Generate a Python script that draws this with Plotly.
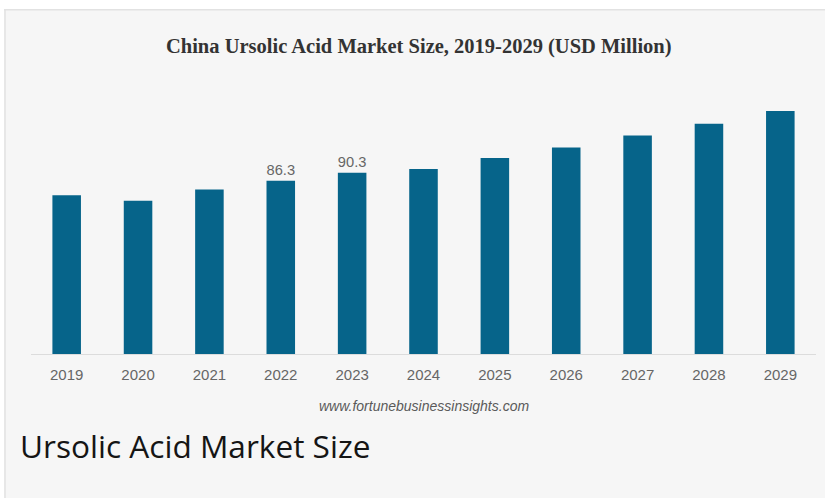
import plotly.graph_objects as go

years = ["2019", "2020", "2021", "2022", "2023", "2024", "2025", "2026", "2027", "2028", "2029"]
values = [79.1, 76.3, 81.9, 86.3, 90.3, 92.2, 97.6, 102.8, 108.8, 114.7, 121.0]
labels = ["", "", "", "86.3", "90.3", "", "", "", "", "", ""]

W, H = 825, 498
L, R, T, B = 31, 9, 93, 144
PW, PH = W - L - R, H - T - B

def px_x(x):
    return (x - L) / PW

def px_y(y):
    return (H - B - y) / PH

BG = "#f6f6f6"
BAR = "#06648a"

fig = go.Figure(go.Bar(
    x=years, y=values, marker=dict(color=BAR, line=dict(width=0)),
    text=labels, textposition="outside", cliponaxis=False,
    textfont=dict(family="Liberation Sans, Arial", size=15, color="#666666"),
    hoverinfo="skip",
))

fig.update_layout(
    width=W, height=H,
    margin=dict(l=L, r=R, t=T, b=B),
    paper_bgcolor=BG, plot_bgcolor=BG,
    bargap=0.6, showlegend=False,
    title=dict(
        text="<b>China Ursolic Acid Market Size, 2019-2029 (USD Million)</b>",
        x=418.8 / W, xref="container", xanchor="center",
        y=1 - 45.5 / H, yref="container", yanchor="middle",
        font=dict(family="Liberation Serif, Times New Roman", size=20.5, color="#333333"),
    ),
    xaxis=dict(
        type="category", showline=True, linecolor="#dcdcdc", linewidth=1,
        showgrid=False, ticks="", ticklabelstandoff=7,
        tickfont=dict(family="Liberation Sans, Arial", size=15, color="#666666"),
    ),
    yaxis=dict(range=[0, 130], visible=False, showgrid=False, zeroline=False),
    shapes=[
        dict(type="rect", xref="paper", yref="paper", x0=px_x(0), x1=px_x(W), y0=px_y(0), y1=px_y(9),
             fillcolor="white", line=dict(width=0), layer="above"),
        dict(type="rect", xref="paper", yref="paper", x0=px_x(0), x1=px_x(4), y0=px_y(0), y1=px_y(H),
             fillcolor="white", line=dict(width=0), layer="above"),
        dict(type="line", xref="paper", yref="paper", x0=px_x(4), x1=px_x(W), y0=px_y(9.8), y1=px_y(9.8),
             line=dict(color="#e2e2e2", width=1.5), layer="above"),
        dict(type="line", xref="paper", yref="paper", x0=px_x(5), x1=px_x(5), y0=px_y(9.8), y1=px_y(H),
             line=dict(color="#e2e2e2", width=1.5), layer="above"),
    ],
    annotations=[
        dict(text="www.fortunebusinessinsights.com", xref="paper", yref="paper",
             x=0.5, y=px_y(406), xanchor="center", yanchor="middle", showarrow=False,
             font=dict(family="Liberation Sans, Arial", size=14, color="#5a5a5a", style="italic")),
        dict(text="Ursolic Acid Market Size", xref="paper", yref="paper",
             x=px_x(18), y=px_y(445), xanchor="left", yanchor="middle", showarrow=False,
             font=dict(family="Open Sans", size=31.6, color="#151515")),
    ],
)

fig.write_html("out.html")
